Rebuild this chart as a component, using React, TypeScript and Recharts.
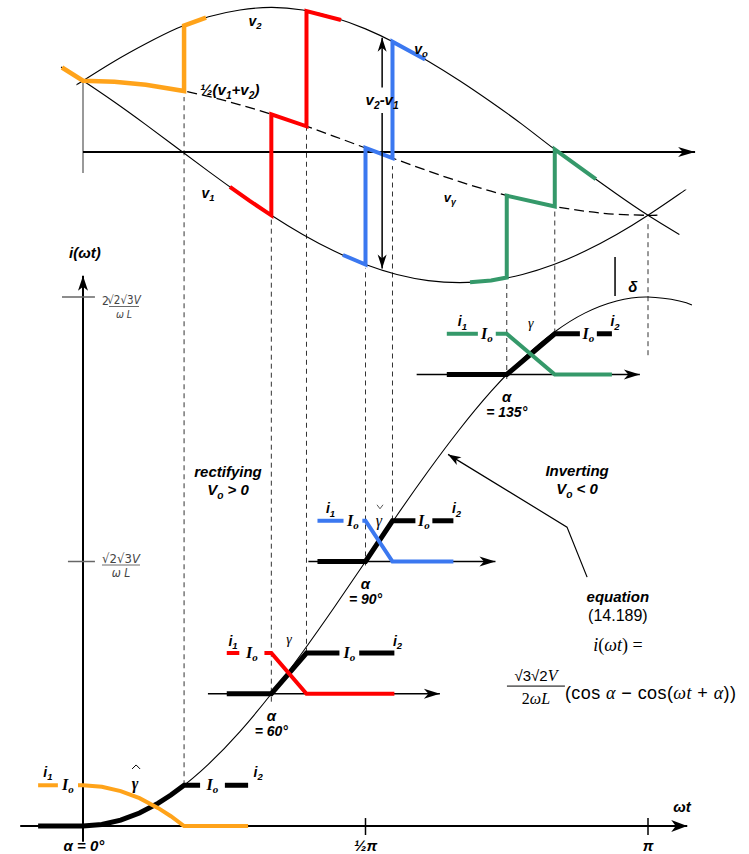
import React from 'react';
import { ComposedChart, Line, XAxis, YAxis, ReferenceDot } from 'recharts';

const W = 749;
const H = 854;

// ωt in degrees: 0 sits at x=83px, π at x=648px
const DEG_PX = 565 / 180;
const X_ORIGIN = 83;
// current in units of √2√3V/ωL, zero on the ωt axis
const I_ORIGIN = 826;
const I_PX = 264.5;
// voltages in units of the phase peak, zero line of the waveforms
const V_ORIGIN = 148;
const V_PX = 134.6;

const X_DOMAIN = [-X_ORIGIN / DEG_PX, (W - X_ORIGIN) / DEG_PX];
const I_DOMAIN = [-(H - I_ORIGIN) / I_PX, I_ORIGIN / I_PX];
const V_DOMAIN = [-(H - V_ORIGIN) / V_PX, V_ORIGIN / V_PX];

// load current i(ωt) for α = 0
const wtCurve = [0, 10, 20, 30, 40, 50, 60, 70, 80, 90, 100, 110, 120, 130, 140, 150, 160, 170, 180, 190, 194];
const iCurve = [0, 0.015, 0.06, 0.134, 0.234, 0.357, 0.5, 0.658, 0.826, 1.0, 1.174, 1.342, 1.5, 1.643, 1.766, 1.866, 1.94, 1.985, 2.0, 1.985, 1.97];

// supply voltages v1, v2 and their mean ½(v1+v2)
const wtV2 = [-2, 0, 10, 20, 30, 40, 50, 60, 70, 80, 90, 100, 110, 120, 130, 140, 150, 160, 170, 180, 190];
const v2 = [0.47, 0.5, 0.645, 0.775, 0.89, 0.975, 1.025, 1.045, 1.025, 0.97, 0.885, 0.775, 0.645, 0.5, 0.342, 0.174, -0.005, -0.175, -0.342, -0.5, -0.643];
const wtV1 = [-7, 0, 10, 20, 30, 40, 50, 60, 70, 80, 90, 100, 110, 120, 130, 140, 150, 160, 170, 180, 190, 192];
const v1 = [0.602, 0.5, 0.342, 0.174, 0, -0.174, -0.342, -0.5, -0.643, -0.766, -0.866, -0.94, -0.985, -1.0, -0.985, -0.94, -0.866, -0.766, -0.643, -0.5, -0.342, -0.309];
const wtMean = [0, 10, 20, 30, 40, 50, 60, 70, 80, 90, 100, 110, 120, 130, 140, 150, 160, 170, 180, 183];
const vMean = [0.5, 0.492, 0.47, 0.433, 0.383, 0.321, 0.25, 0.171, 0.087, 0, -0.087, -0.171, -0.25, -0.321, -0.383, -0.433, -0.47, -0.492, -0.5, -0.499];

// output voltage vo around each commutation
const wtVo0 = [-6.7, 0, 10, 20, 32.2, 32.2, 39.2];
const vo0 = [0.598, 0.5, 0.492, 0.47, 0.423, 0.909, 0.968];
const wtVo60 = [46.8, 53, 60, 60, 71.2, 71.2, 82.2];
const vo60 = [-0.289, -0.391, -0.5, 0.25, 0.161, 1.018, 0.951];
const wtVo90 = [82.8, 90, 90, 98.6, 98.6, 109];
const vo90 = [-0.795, -0.866, 0, -0.075, 0.79, 0.658];
const wtVo135 = [123.3, 130, 135, 135, 150.3, 150.3, 163.4];
const vo135 = [-0.998, -0.985, -0.962, -0.354, -0.434, -0.01, -0.232];

// commutation sketches: firing angle, overlap, current at α, load current
const ALPHA = [0, 60, 90, 135];
const GAMMA = [32.2, 11.2, 8.6, 15.3];
const I_ALPHA = [0, 0.5, 1.0, 1.707];
const IO = 0.154;
// α = 0 overlap follows the curve itself
const wtOverlap0 = [0, 6, 12, 18, 24, 28, 32.2];
const iIncoming0 = [0, 0.0055, 0.0219, 0.0489, 0.0865, 0.1171, 0.154];
const iOutgoing0 = [0.154, 0.1485, 0.1321, 0.1051, 0.0675, 0.0369, 0];

// dashed guides from the current sketches up to the voltages
const wtGuide = [32.2, 60, 71.2, 90, 98.6, 135, 150.3, 180];
const guideLow = [0.154, 0.47, 0.655, 0.985, 1.155, 1.69, 1.862, 1.78];
const guideHigh = [2.756, 2.298, 2.64, 2.11, 2.495, 2.064, 2.331, 2.291];

const ORANGE = '#FFA31A';
const RED = '#FF0000';
const BLUE = '#3B78F0';
const GREEN = '#35996A';
const SKETCH_COLORS = [ORANGE, RED, BLUE, GREEN];

const SANS = "'Liberation Sans', Arial, Helvetica, sans-serif";
const SERIF = "'Liberation Serif', 'Times New Roman', serif";
const NARROW = "'Liberation Sans Narrow', 'DejaVu Sans Condensed', 'Liberation Sans', sans-serif";

type Pt = { x: number; y: number };
type Axis = 'i' | 'v';
type Draw = (cx: number, cy: number) => React.ReactElement;
type Part = string | { sub: string };

const zip = (xs: number[], ys: number[]): Pt[] => xs.map((x, k) => ({ x, y: ys[k] }));

const marks: React.ReactElement[] = [];

function line(pts: Pt[], color: string, width: number, opt: { axis?: Axis; curve?: any; dash?: string } = {}) {
  marks.push(
    <Line
      key={`m${marks.length}`}
      data={pts}
      dataKey="y"
      xAxisId="t"
      yAxisId={opt.axis ?? 'i'}
      type={opt.curve ?? 'linear'}
      stroke={color}
      strokeWidth={width}
      strokeDasharray={opt.dash}
      strokeLinejoin="miter"
      strokeLinecap="butt"
      dot={false}
      activeDot={false}
      legendType="none"
      isAnimationActive={false}
    />
  );
}

function place(x: number, y: number, axis: Axis, draw: Draw) {
  marks.push(
    <ReferenceDot
      key={`m${marks.length}`}
      x={x}
      y={y}
      xAxisId="t"
      yAxisId={axis}
      r={0}
      ifOverflow="visible"
      shape={(p: any) => draw(p.cx, p.cy)}
    />
  );
}

// stealth arrow head, tip at the point, angle in screen degrees (0 = right)
function head(x: number, y: number, axis: Axis, angle: number, len: number, half: number) {
  place(x, y, axis, (cx, cy) => (
    <path
      d={`M0,0 L${-len},${-half} L${-len * 0.72},0 L${-len},${half} Z`}
      transform={`translate(${cx},${cy}) rotate(${angle})`}
      fill="#000"
    />
  ));
}

// bold italic label; {sub} parts are set as subscripts
function label(parts: Part[], size = 14, anchor: 'middle' | 'start' = 'middle'): Draw {
  const shift = size * 0.24;
  return (cx, cy) => {
    let low = false;
    const spans = parts.map((p, k) => {
      if (typeof p === 'string') {
        const dy = low ? -shift : 0;
        low = false;
        return (
          <tspan key={k} dy={dy}>
            {p}
          </tspan>
        );
      }
      low = true;
      return (
        <tspan key={k} dy={shift} fontSize={size * 0.68}>
          {p.sub}
        </tspan>
      );
    });
    return (
      <text x={cx} y={cy + size * 0.36} textAnchor={anchor} fontFamily={SANS} fontWeight={700} fontStyle="italic" fontSize={size} fill="#000">
        {spans}
      </text>
    );
  };
}

const ioLabel: Draw = (cx, cy) => (
  <text x={cx} y={cy + 5} textAnchor="middle" fontFamily={SERIF} fontWeight={700} fontStyle="italic" fontSize={16} fill="#000">
    I
    <tspan fontSize={11} dy={3}>
      o
    </tspan>
  </text>
);

// γ with an optional hat / check accent drawn as a stroke
const gammaLabel = (accent: 'hat' | 'check' | ''): Draw => (cx, cy) => (
  <g>
    {accent === 'hat' && <path d={`M${cx - 3},${cy - 15} L${cx + 1},${cy - 19} L${cx + 5},${cy - 15}`} fill="none" stroke="#000" strokeWidth={1} />}
    {accent === 'check' && <path d={`M${cx - 2},${cy - 16} L${cx + 1},${cy - 12} L${cx + 4},${cy - 16}`} fill="none" stroke="#555" strokeWidth={1} />}
    <text
      x={cx}
      y={cy + 5}
      textAnchor="middle"
      fontFamily={SERIF}
      fontStyle="italic"
      fontSize={accent ? 16 : 14}
      fontWeight={accent === 'hat' ? 700 : 400}
      fill="#000"
    >
      γ
    </text>
  </g>
);

const tickFraction = (prefix: boolean): Draw => (cx, cy) => {
  const num = prefix ? cy + 7 : cy + 1;
  const left = prefix ? cx + 7 : cx;
  const size = prefix ? 11.5 : 13;
  const wid = prefix ? 30 : 38;
  return (
    <g fontFamily={NARROW} fill="#444">
      {prefix && (
        <text x={cx} y={cy + 8} fontSize={12}>
          2
        </text>
      )}
      <text x={left + wid / 2} y={num} fontSize={size} textAnchor="middle">
        √2√3<tspan fontStyle="italic">V</tspan>
      </text>
      <line x1={left} x2={left + wid} y1={num + 2.5} y2={num + 2.5} stroke="#444" strokeWidth={0.8} />
      <text x={left + wid / 2} y={num + 14} fontSize={size - 1} fontStyle="italic" textAnchor="middle">
        ω  L
      </text>
    </g>
  );
};

function buildMarks() {
  // dashed guides
  wtGuide.forEach((x, k) => line(zip([x, x], [guideLow[k], guideHigh[k]]), '#333', 1, { dash: '5 4' }));

  // supply waveforms
  line(zip(wtV2, v2), '#000', 1.1, { axis: 'v', curve: 'natural' });
  line(zip(wtV1, v1), '#000', 1.1, { axis: 'v', curve: 'natural' });
  line(zip(wtMean, vMean), '#000', 1.3, { axis: 'v', curve: 'natural', dash: '10 5' });
  line(zip([0, 0], [0.505, -0.186]), '#555', 1.2, { axis: 'v' });
  line(zip([0, 195], [-0.03, -0.03]), '#000', 2, { axis: 'v' });
  head(195, -0.03, 'v', 0, 17, 5);
  line(zip([169.5, 169.5], [-0.81, -1.1]), '#000', 1.5, { axis: 'v' });

  // current curve and its axes
  line(zip(wtCurve, iCurve), '#000', 1.1, { curve: 'natural' });
  line(zip([-20, 192.5], [0, 0]), '#000', 2);
  head(192.5, 0, 'i', 0, 16, 6);
  line(zip([0, 0], [-0.06, 2.08]), '#000', 2);
  head(0, 2.08, 'i', -90, 15, 5);
  line(zip([-6.7, 3.8], [2, 2]), '#666', 1.5);
  line(zip([-4.8, 3.8], [1, 1]), '#666', 1.5);
  line(zip([90, 90], [0.03, -0.034]), '#000', 1.5);
  line(zip([180, 180], [0.03, -0.034]), '#000', 1.5);

  // output voltage pieces
  line(zip(wtVo0, vo0), ORANGE, 4.5, { axis: 'v' });
  line(zip(wtVo60, vo60), RED, 4, { axis: 'v' });
  line(zip(wtVo90, vo90), BLUE, 4, { axis: 'v' });
  line(zip(wtVo135, vo135), GREEN, 4, { axis: 'v' });

  // v2 - v1 span arrow, broken for its label
  line(zip([95.3, 95.3], [0.45, 0.82]), '#000', 1.5, { axis: 'v' });
  head(95.3, 0.82, 'v', -90, 14, 4.5);
  line(zip([95.3, 95.3], [0.26, -0.895]), '#000', 1.5, { axis: 'v' });
  head(95.3, -0.895, 'v', 90, 14, 4.5);

  // pointer to the curve for the inverting region
  const px = [160.6, 154.2, 116.3];
  const py = [0.941, 1.13, 1.405];
  line(zip(px, py), '#000', 1.2);
  const ang = (Math.atan2(-(py[2] - py[1]) * I_PX, (px[2] - px[1]) * DEG_PX) * 180) / Math.PI;
  head(px[2], py[2], 'i', ang, 13, 4.5);

  // α = 0 sketch
  const t0 = IO;
  line(zip([-14.3, ...wtOverlap0, 37.3], [0, ...iIncoming0, t0]), '#000', 5);
  line(zip([45.2, 52.6], [t0, t0]), '#000', 5);
  line(zip([-14.3, -8], [t0, t0]), ORANGE, 4);
  line(zip([-1.6, ...wtOverlap0, 52.6], [t0, ...iOutgoing0, 0]), ORANGE, 4);
  place(-11.2, t0 + 0.05, 'i', label(['i', { sub: '1' }]));
  place(-4.8, t0, 'i', ioLabel);
  place(41.2, t0, 'i', ioLabel);
  place(55.8, t0 + 0.05, 'i', label(['i', { sub: '2' }]));
  place(16.6, t0 + 0.005, 'i', gammaLabel('hat'));

  // α = 60, 90, 135 sketches: offsets in degrees from α
  const layout = [
    null,
    { axis: [-20.2, 53.7], start: -14.2, gap1: [-10.2, -2.2], gap2: [21.7, 28.0], end: 39.2, accent: '' as const, gy: 0.053 },
    { axis: [-18.2, 41.4], start: -15.3, gap1: [-7.0, -1.0], gap2: [15.9, 21.3], end: 28.0, accent: 'check' as const, gy: 0 },
    { axis: [-28.7, 42.4], start: -19.1, gap1: [-9.2, -3.5], gap2: [23.3, 28.7], end: 33.5, accent: '' as const, gy: 0.042 },
  ];
  for (let k = 1; k < ALPHA.length; k++) {
    const L = layout[k]!;
    const a = ALPHA[k];
    const g = GAMMA[k];
    const b = I_ALPHA[k];
    const t = b + IO;
    const col = SKETCH_COLORS[k];
    line(zip([a + L.axis[0], a + L.axis[1]], [b, b]), '#000', 1.5);
    head(a + L.axis[1], b, 'i', 0, 16, 5);
    line(zip([a + L.start, a, a + g, a + L.gap2[0]], [b, b, t, t]), '#000', 5);
    line(zip([a + L.gap2[1], a + L.end], [t, t]), '#000', 5);
    line(zip([a + L.start, a + L.gap1[0]], [t, t]), col, 4);
    line(zip([a + L.gap1[1], a, a + g, a + L.end], [t, t, b, b]), col, 4);
    place(a + (L.start + L.gap1[0]) / 2, t + 0.047, 'i', label(['i', { sub: '1' }]));
    place(a + (L.gap1[0] + L.gap1[1]) / 2, t, 'i', ioLabel);
    place(a + (L.gap2[0] + L.gap2[1]) / 2, t, 'i', ioLabel);
    place(a + L.end + 1, t + 0.047, 'i', label(['i', { sub: '2' }]));
    place(a + g / 2, t + L.gy, 'i', gammaLabel(L.accent));
    place(a, b - 0.083, 'i', label(['α'], 15));
    place(a, b - 0.14, 'i', label([`= ${a}°`], 14));
  }

  // voltage labels
  place(54.8, 0.944, 'v', label(['v', { sub: '2' }]));
  place(107.7, 0.736, 'v', label(['v', { sub: 'o' }]));
  place(37.3, 0.431, 'v', label(['½(v', { sub: '1' }, '+v', { sub: '2' }, ')'], 15, 'start'));
  place(95.3, 0.357, 'v', label(['v', { sub: '2' }, '-v', { sub: '1' }], 15));
  place(39.8, -0.334, 'v', label(['v', { sub: '1' }]));
  place(116.9, -0.364, 'v', label(['v', { sub: 'γ' }], 13));
  place(175.2, -1.033, 'v', label(['δ'], 15));

  // current labels
  place(0.6, 2.166, 'i', label(['i(ωt)'], 15));
  place(6.05, 2, 'i', tickFraction(true));
  place(6.05, 1, 'i', tickFraction(false));
  place(46.2, 1.338, 'i', label(['rectifying'], 15));
  place(46.2, 1.272, 'i', label(['V', { sub: 'o' }, ' > 0'], 15));
  place(157.4, 1.342, 'i', label(['Inverting'], 15));
  place(157.4, 1.274, 'i', label(['V', { sub: 'o' }, ' < 0'], 15));
  place(0.3, -0.0756, 'i', label(['α = 0°'], 15));
  place(90, -0.074, 'i', label(['½π'], 15));
  place(180, -0.074, 'i', label(['π'], 15));
  place(190.8, 0.072, 'i', label(['ωt'], 15));

  // equation block
  place(170.4, 0.866, 'i', label(['equation'], 15));
  place(170.4, 0.798, 'i', (cx, cy) => (
    <text x={cx} y={cy + 6} textAnchor="middle" fontFamily={SANS} fontSize={16} fill="#000">
      (14.189)
    </text>
  ));
  place(170.4, 0.684, 'i', (cx, cy) => (
    <text x={cx} y={cy + 6} textAnchor="middle" fontFamily={SERIF} fontSize={18} fill="#000">
      <tspan fontStyle="italic">i</tspan>(<tspan fontStyle="italic">ωt</tspan>) =
    </text>
  ));
  place(144.3, 0.529, 'i', (cx, cy) => (
    <g fill="#000">
      <text x={cx} y={cy - 5} textAnchor="middle" fontFamily={SANS} fontSize={15}>
        √3√2<tspan fontFamily={SERIF} fontStyle="italic" fontSize={16}>V</tspan>
      </text>
      <line x1={cx - 29} x2={cx + 29} y1={cy} y2={cy} stroke="#000" strokeWidth={1} />
      <text x={cx} y={cy + 18} textAnchor="middle" fontFamily={SERIF} fontSize={16}>
        2<tspan fontStyle="italic">ωL</tspan>
      </text>
      <text x={cx + 29} y={cy + 13} fontFamily={SANS} fontSize={18} textLength={171} lengthAdjust="spacing">
        (cos <tspan fontFamily={SERIF} fontStyle="italic">α</tspan> − cos(<tspan fontFamily={SERIF} fontStyle="italic">ωt</tspan> + <tspan fontFamily={SERIF} fontStyle="italic">α</tspan>))
      </text>
    </g>
  ));
}

buildMarks();

export default function App() {
  return (
    <div style={{ position: 'absolute', left: 0, top: 0, width: W, height: H, background: '#fff' }}>
      <ComposedChart width={W} height={H} margin={{ top: 0, right: 0, bottom: 0, left: 0 }}>
        <XAxis xAxisId="t" type="number" dataKey="x" domain={X_DOMAIN} allowDataOverflow hide />
        <YAxis yAxisId="i" type="number" domain={I_DOMAIN} allowDataOverflow hide />
        <YAxis yAxisId="v" type="number" domain={V_DOMAIN} allowDataOverflow hide />
        {marks}
      </ComposedChart>
    </div>
  );
}
